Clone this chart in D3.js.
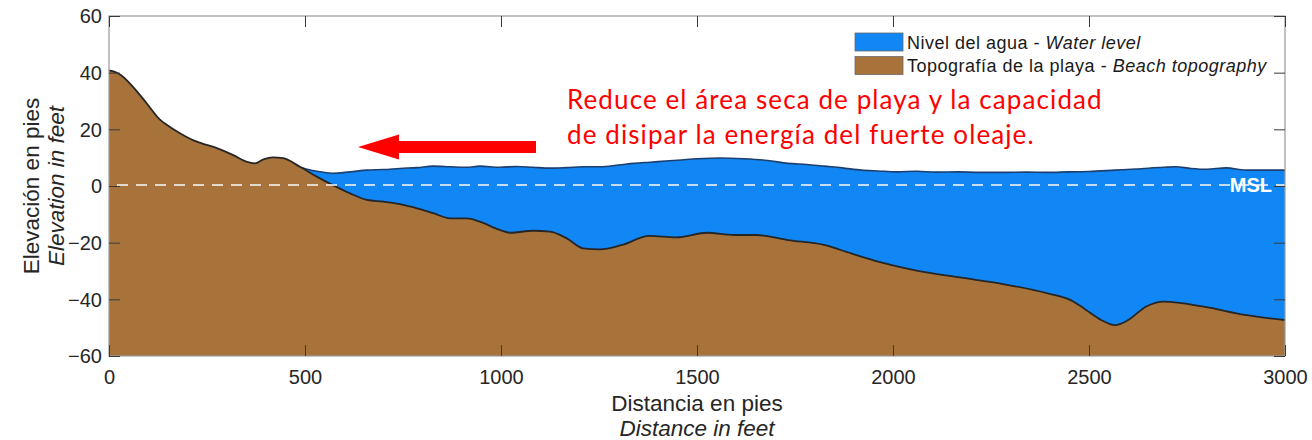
<!DOCTYPE html>
<html>
<head>
<meta charset="utf-8">
<script src="https://cdn.jsdelivr.net/npm/d3@7"></script>
<style>
  html, body { margin: 0; padding: 0; background: #fff; }
  svg { display: block; }
  .tick text { font-family: "Liberation Sans", Arial, sans-serif; }
</style>
</head>
<body>
<svg id="chart" width="1312" height="440"></svg>
<script>
// Beach profile: distance offshore (ft) and elevation (ft)
const topoDistance = [0, 15, 30, 60, 96, 130, 148, 181, 214, 249, 275, 317, 350, 372, 394, 418, 444, 487, 530, 571, 615, 658, 699, 742, 786, 827, 870, 913, 946, 997, 1023, 1082, 1125, 1168, 1209, 1253, 1309, 1378, 1447, 1526, 1594, 1653, 1732, 1824, 1893, 1962, 2051, 2166, 2281, 2395, 2452, 2487, 2531, 2566, 2600, 2645, 2691, 2793, 2898, 3000];
const topoElevation = [40.8, 40.3, 39.2, 35.2, 29.2, 23.4, 21.5, 18.6, 16.2, 14.5, 13.4, 10.9, 8.6, 8.0, 9.4, 10.1, 9.8, 6.8, 3.3, 0.3, -2.6, -4.9, -5.5, -6.4, -7.9, -9.6, -11.4, -11.4, -12.6, -15.5, -16.5, -15.8, -16.1, -18.5, -22.0, -22.4, -20.8, -17.6, -18.1, -16.5, -17.3, -17.3, -19.1, -20.8, -23.8, -26.7, -29.6, -32.2, -34.6, -37.9, -40.2, -43.2, -47.3, -49.1, -47.3, -42.6, -40.8, -42.6, -45.5, -47.3];

// Water surface elevation (ft) from the shoreline seaward
const waterDistance = [470, 505, 540, 571, 615, 658, 700, 742, 786, 827, 870, 913, 946, 997, 1040, 1082, 1125, 1168, 1210, 1253, 1300, 1340, 1380, 1420, 1460, 1500, 1560, 1620, 1680, 1732, 1780, 1824, 1870, 1920, 1962, 2010, 2060, 2110, 2166, 2220, 2281, 2340, 2395, 2450, 2500, 2566, 2620, 2690, 2720, 2760, 2800, 2850, 2900, 2950, 3000];
const waterElevation = [7.6, 5.9, 5.0, 4.5, 5.0, 5.6, 5.8, 6.2, 6.5, 7.0, 6.8, 6.6, 7.0, 6.6, 6.9, 6.6, 6.3, 6.5, 6.8, 6.8, 7.4, 8.0, 8.4, 8.8, 9.2, 9.6, 9.9, 9.6, 9.0, 8.0, 7.6, 7.0, 6.4, 5.6, 5.3, 5.0, 5.2, 4.9, 5.0, 4.8, 4.8, 4.9, 4.8, 5.0, 5.1, 5.6, 6.0, 6.6, 6.8, 6.2, 5.9, 6.4, 5.6, 5.6, 5.6];

// Axis ticks
const xTicks = [0, 500, 1000, 1500, 2000, 2500, 3000];
const yTicks = [-60, -40, -20, 0, 20, 40, 60];

// Legend entries
const legendItems = [
  { es: "Nivel del agua - ", en: "Water level", color: "#1087f5" },
  { es: "Topografía de la playa - ", en: "Beach topography", color: "#a8733a" }
];

const noteLines = [
  "Reduce el área seca de playa y la capacidad",
  "de disipar la energía del fuerte oleaje."
];

const svg = d3.select("#chart");
const plotLeft = 109, plotRight = 1285, plotTop = 16, plotBottom = 356;

const x = d3.scaleLinear().domain([0, 3000]).range([plotLeft, plotRight]);
const y = d3.scaleLinear().domain([-60, 60]).range([plotBottom, plotTop]);

const topo = topoDistance.map((d, i) => [d, topoElevation[i]]);
const water = waterDistance.map((d, i) => [d, waterElevation[i]]);

const curve = d3.curveMonotoneX;

// water body: from the surface down to the bottom of the axes
svg.append("path")
  .datum(water)
  .attr("fill", legendItems[0].color)
  .attr("d", d3.area().x(d => x(d[0])).y0(y(-60)).y1(d => y(d[1])).curve(curve));

svg.append("path")
  .datum(water)
  .attr("fill", "none")
  .attr("stroke", "#1c3f70")
  .attr("stroke-width", 1.6)
  .attr("d", d3.line().x(d => x(d[0])).y(d => y(d[1])).curve(curve));

// beach topography on top
svg.append("path")
  .datum(topo)
  .attr("fill", legendItems[1].color)
  .attr("d", d3.area().x(d => x(d[0])).y0(y(-60)).y1(d => y(d[1])).curve(curve));

svg.append("path")
  .datum(topo)
  .attr("fill", "none")
  .attr("stroke", "#262626")
  .attr("stroke-width", 1.8)
  .attr("d", d3.line().x(d => x(d[0])).y(d => y(d[1])).curve(curve));

// mean sea level reference
svg.append("line")
  .attr("x1", plotLeft + 8).attr("x2", plotRight)
  .attr("y1", y(0) - 1).attr("y2", y(0) - 1)
  .attr("stroke", "#f2f2f2").attr("stroke-opacity", 0.8)
  .attr("stroke-width", 2)
  .attr("stroke-dasharray", "11,8");

svg.append("text")
  .attr("x", plotRight - 13).attr("y", y(0) + 6)
  .attr("text-anchor", "end")
  .attr("font-family", "Liberation Sans, Arial, sans-serif")
  .attr("font-weight", "bold")
  .attr("font-size", 20)
  .attr("fill", "#ffffff")
  .text("MSL");

// box and axes
const tickLen = 11;
svg.append("rect")
  .attr("x", plotLeft).attr("y", plotTop)
  .attr("width", plotRight - plotLeft).attr("height", plotBottom - plotTop)
  .attr("fill", "none").attr("stroke", "#9a9a9a").attr("stroke-width", 1.2);

const xAxis = svg.append("g").attr("transform", `translate(0,${plotBottom})`)
  .call(d3.axisBottom(x).tickValues(xTicks).tickSize(-tickLen).tickPadding(14).tickFormat(d3.format("d")));
const xAxisTop = svg.append("g").attr("transform", `translate(0,${plotTop})`)
  .call(d3.axisTop(x).tickValues(xTicks).tickSize(-tickLen).tickFormat(""));
const yAxis = svg.append("g").attr("transform", `translate(${plotLeft},0)`)
  .call(d3.axisLeft(y).tickValues(yTicks).tickSize(-tickLen).tickPadding(7).tickFormat(d3.format("d")));
const yAxisRight = svg.append("g").attr("transform", `translate(${plotRight},0)`)
  .call(d3.axisRight(y).tickValues(yTicks).tickSize(-tickLen).tickFormat(""));

[xAxis, xAxisTop, yAxis, yAxisRight].forEach(g => {
  g.select(".domain").remove();
  g.selectAll(".tick line").attr("stroke", "#3a3a3a").attr("stroke-width", 1);
  g.selectAll(".tick text").attr("fill", "#262626").attr("font-size", 20);
});
yAxis.selectAll(".tick text").attr("dy", "0.34em");

// axis titles
const label = (g, lines, size) => {
  lines.forEach((t, i) => {
    g.append("text")
      .attr("x", 0).attr("y", i * 25)
      .attr("text-anchor", "middle")
      .attr("font-family", "Liberation Sans, Arial, sans-serif")
      .attr("font-size", size)
      .attr("font-style", i === 1 ? "italic" : "normal")
      .attr("fill", "#262626")
      .text(t);
  });
};
label(svg.append("g").attr("transform", `translate(${(plotLeft + plotRight) / 2},411)`),
  ["Distancia en pies", "Distance in feet"], 22.5);
label(svg.append("g").attr("transform", `translate(39,186) rotate(-90)`),
  ["Elevación en pies", "Elevation in feet"], 22.5);

// legend
const legend = svg.append("g").attr("transform", "translate(855,33)");
legendItems.forEach((item, i) => {
  const row = legend.append("g").attr("transform", `translate(0,${i * 23.5})`);
  row.append("rect").attr("width", 48).attr("height", 18)
    .attr("fill", item.color).attr("stroke", "#6a6a6a").attr("stroke-width", 0.8);
  const t = row.append("text").attr("x", 52).attr("y", 15.5)
    .attr("font-family", "Liberation Sans, Arial, sans-serif")
    .attr("font-size", 18).attr("letter-spacing", 0.5).attr("fill", "#1a1a1a");
  t.append("tspan").text(item.es);
  t.append("tspan").attr("font-style", "italic").text(item.en);
});

// annotation
noteLines.forEach((t, i) => {
  svg.append("text")
    .attr("x", 567).attr("y", 109 + i * 35)
    .attr("font-family", "Lato, 'Noto Sans', sans-serif")
    .attr("font-size", 26)
    .attr("letter-spacing", 1.1)
    .attr("fill", "#ff0000")
    .text(t);
});

// arrow pointing toward the shore
const arrowTip = 358, arrowTail = 536, arrowY = 147;
svg.append("path")
  .attr("fill", "#ff0000")
  .attr("d", d3.line()([
    [arrowTip, arrowY],
    [arrowTip + 41, arrowY - 12.5],
    [arrowTip + 41, arrowY - 6],
    [arrowTail, arrowY - 6],
    [arrowTail, arrowY + 6],
    [arrowTip + 41, arrowY + 6],
    [arrowTip + 41, arrowY + 12.5]
  ]) + "Z");
</script>
</body>
</html>
